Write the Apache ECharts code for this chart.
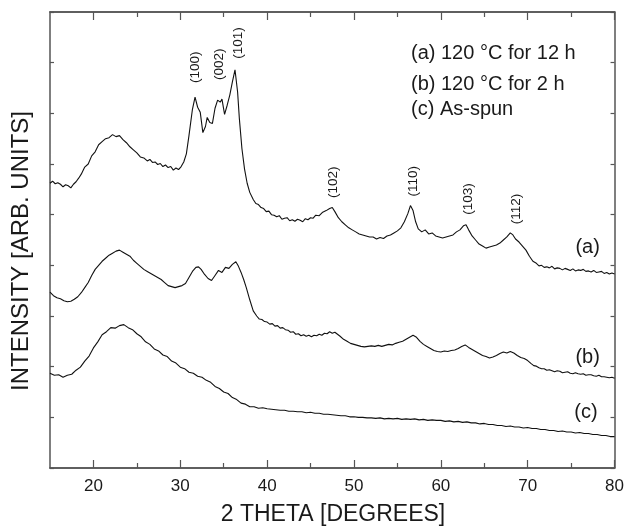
<!DOCTYPE html>
<html>
<head>
<meta charset="utf-8">
<script src="https://cdn.jsdelivr.net/npm/echarts@6/dist/echarts.min.js"></script>
<style>html,body{margin:0;padding:0;background:#fff;}#c{width:627px;height:528px;}</style>
</head>
<body>
<div id="c"></div>
<script>
const majorTicks = [20, 30, 40, 50, 60, 70, 80];
const minorTicks = [25, 35, 45, 55, 65, 75];

const curveA = [
[15.0,5.62],[15.3,5.66],[15.6,5.61],[15.9,5.63],[16.2,5.60],[16.5,5.55],[16.8,5.59],[17.1,5.57],[17.4,5.53],[17.7,5.60],
[18.0,5.65],[18.3,5.72],[18.6,5.80],
[19.0,5.94],[19.4,6.00],[19.8,6.16],[20.2,6.24],[20.6,6.38],[21.0,6.44],[21.4,6.50],[21.8,6.52],[22.2,6.58],[22.6,6.54],
[23.0,6.56],[23.4,6.48],[23.8,6.42],[24.2,6.34],[24.6,6.28],[25.0,6.22],[25.4,6.14],[25.8,6.12],
[26.2,6.06],[26.5,6.09],[26.8,6.03],[27.1,6.04],[27.4,5.99],[27.7,6.01],[28.0,5.95],[28.3,5.98],[28.6,5.93],[28.9,5.95],
[29.2,5.88],[29.5,5.92],[29.8,5.89],[30.1,5.95],[30.4,6.04],[30.7,6.20],
[31.0,6.56],[31.4,7.08],[31.7,7.32],[32.0,7.12],[32.3,7.02],[32.6,6.62],[32.9,6.74],[33.1,6.92],[33.4,6.82],[33.7,6.80],
[34.0,7.10],[34.3,7.26],[34.6,7.22],[34.8,7.28],[35.1,6.98],[35.4,7.16],[35.7,7.36],[36.0,7.62],[36.3,7.86],[36.6,7.42],
[36.8,6.90],[37.1,6.30],[37.4,5.90],[37.7,5.62],[38.0,5.44],
[38.4,5.30],[38.7,5.22],[39.0,5.20],[39.3,5.14],[39.6,5.12],[39.9,5.06],[40.2,5.07],[40.5,5.00],[40.8,4.99],[41.1,4.96],
[41.4,4.98],[41.7,4.91],[42.0,4.93],[42.3,4.94],[42.6,4.88],[42.9,4.90],[43.2,4.87],[43.5,4.91],[43.8,4.89],[44.1,4.86],
[44.4,4.92],[44.7,4.90],[45.0,4.94],[45.3,4.93],[45.6,4.99],[46.0,4.98],[46.4,5.05],
[46.8,5.08],[47.2,5.12],[47.5,5.14],[47.8,5.06],
[48.2,4.94],[48.6,4.86],[49.0,4.80],[49.4,4.74],[49.8,4.70],[50.2,4.66],[50.6,4.62],[51.0,4.60],[51.4,4.58],[51.8,4.56],
[52.2,4.56],[52.6,4.52],[53.0,4.55],[53.4,4.53],[53.8,4.58],[54.2,4.60],[54.6,4.64],[55.0,4.68],[55.4,4.74],[55.8,4.86],
[56.2,5.02],[56.5,5.18],[56.8,5.08],[57.1,4.86],[57.4,4.72],[57.8,4.66],[58.2,4.70],[58.6,4.62],[59.0,4.64],[59.4,4.58],
[59.8,4.56],[60.2,4.54],[60.6,4.56],[61.0,4.58],[61.4,4.60],[61.8,4.66],[62.2,4.70],[62.6,4.78],[62.9,4.80],[63.2,4.70],
[63.6,4.58],[64.0,4.50],[64.4,4.42],[64.8,4.38],[65.2,4.34],[65.6,4.36],[66.0,4.38],[66.4,4.40],[66.8,4.44],[67.2,4.50],
[67.6,4.56],[68.0,4.64],[68.3,4.60],[68.6,4.52],[69.0,4.46],[69.4,4.38],[69.8,4.30],[70.2,4.18],[70.6,4.08],
[71.0,4.04],[71.3,3.99],[71.6,4.00],[71.9,3.96],[72.2,3.97],[72.5,3.95],[72.8,3.98],[73.1,3.93],[73.4,3.95],[73.7,3.94],
[74.0,3.91],[74.3,3.94],[74.6,3.92],[74.9,3.90],[75.2,3.93],[75.5,3.89],[75.8,3.91],[76.1,3.90],[76.4,3.92],[76.7,3.88],
[77.0,3.89],[77.3,3.87],[77.6,3.90],[77.9,3.86],[78.2,3.87],[78.5,3.88],[78.8,3.84],[79.1,3.86],[79.4,3.83],[79.7,3.85],
[80.0,3.83]
];

const curveB = [
[15.0,3.47],[15.4,3.40],[15.8,3.36],[16.2,3.34],[16.6,3.30],[17.0,3.28],[17.4,3.29],[17.8,3.33],[18.2,3.38],[18.6,3.46],
[19.0,3.56],[19.4,3.66],[19.8,3.80],[20.2,3.92],[20.6,4.00],[21.0,4.08],[21.4,4.14],[21.8,4.20],[22.2,4.24],[22.6,4.28],
[23.0,4.30],[23.4,4.26],[23.8,4.22],[24.2,4.18],[24.6,4.10],[25.0,4.04],[25.4,3.98],[25.8,3.92],[26.2,3.88],[26.6,3.84],
[27.0,3.80],[27.4,3.76],[27.8,3.72],[28.2,3.66],[28.6,3.60],[29.0,3.58],[29.4,3.56],[29.8,3.58],[30.2,3.60],[30.6,3.64],
[31.0,3.76],[31.4,3.88],[31.8,3.96],[32.1,3.97],[32.4,3.92],[32.8,3.82],[33.2,3.74],[33.6,3.70],[34.0,3.80],[34.4,3.90],
[34.8,3.86],[35.2,3.96],[35.6,3.94],[36.0,4.02],[36.4,4.07],[36.7,3.98],[37.0,3.86],[37.3,3.72],[37.6,3.56],[38.0,3.32],
[38.4,3.10],
[38.8,3.00],[39.1,2.94],[39.4,2.93],[39.7,2.89],[40.0,2.88],[40.3,2.84],[40.6,2.85],[40.9,2.80],[41.2,2.81],[41.5,2.76],
[41.8,2.77],[42.1,2.73],[42.4,2.72],[42.7,2.68],[43.0,2.69],[43.3,2.64],[43.6,2.65],[43.9,2.61],[44.2,2.63],[44.5,2.60],
[44.8,2.62],[45.1,2.59],[45.4,2.62],[45.7,2.61],[46.0,2.64],[46.3,2.62],[46.6,2.66],[46.9,2.65],[47.2,2.69],[47.5,2.66],
[47.8,2.68],[48.1,2.64],
[48.4,2.60],[48.8,2.54],[49.2,2.50],[49.6,2.46],[50.0,2.44],
[50.4,2.42],[50.8,2.40],[51.2,2.39],[51.6,2.40],[52.0,2.41],[52.4,2.40],[52.8,2.42],[53.2,2.40],[53.6,2.42],[54.0,2.44],
[54.4,2.43],[54.8,2.46],[55.2,2.48],[55.6,2.50],[56.0,2.54],[56.4,2.58],[56.8,2.62],[57.2,2.58],[57.6,2.50],[58.0,2.44],
[58.4,2.40],[58.8,2.36],[59.2,2.32],[59.6,2.30],[60.0,2.29],[60.4,2.31],[60.8,2.30],[61.2,2.32],[61.6,2.33],[62.0,2.36],
[62.4,2.40],[62.8,2.43],[63.2,2.38],[63.6,2.34],[64.0,2.30],[64.4,2.26],[64.8,2.22],[65.2,2.20],[65.6,2.17],[66.0,2.19],
[66.4,2.22],[66.8,2.26],[67.2,2.29],[67.6,2.27],[68.0,2.30],[68.4,2.27],[68.8,2.22],[69.2,2.18],[69.6,2.16],[70.0,2.12],
[70.4,2.06],[70.7,2.02],[71.0,2.01],[71.3,1.98],[71.6,1.96],[71.9,1.96],[72.2,1.93],[72.5,1.94],[72.8,1.92],[73.1,1.90],
[73.4,1.92],[73.7,1.91],[74.0,1.88],[74.3,1.89],[74.6,1.90],[74.9,1.87],[75.2,1.86],[75.5,1.88],[75.8,1.86],[76.1,1.85],
[76.4,1.86],[76.7,1.83],[77.0,1.84],[77.3,1.84],[77.6,1.82],[77.9,1.81],[78.2,1.83],[78.5,1.80],[78.8,1.80],[79.1,1.79],
[79.4,1.78],[79.7,1.79],[80.0,1.77]
];

const curveC = [
[15.0,1.87],[15.5,1.83],[16.0,1.84],[16.5,1.79],[17.0,1.83],[17.5,1.85],[18.0,1.93],[18.5,1.99],[19.0,2.11],[19.5,2.21],
[20.0,2.37],[20.5,2.49],[21.0,2.63],[21.5,2.69],[22.0,2.77],[22.5,2.76],[23.0,2.81],[23.5,2.83],[24.0,2.77],[24.5,2.73],
[25.0,2.65],[25.5,2.59],[26.0,2.49],[26.5,2.44],[27.0,2.35],[27.5,2.31],[28.0,2.23],[28.5,2.20],[29.0,2.11],[29.5,2.07],
[30.0,1.99],[30.5,1.96],[31.0,1.89],[31.5,1.87],[32.0,1.81],[32.5,1.79],[33.0,1.73],[33.5,1.69],[34.0,1.61],[34.5,1.57],
[35.0,1.50],[35.5,1.47],[36.0,1.39],[36.5,1.35],[37.0,1.28],[37.5,1.26],[38.0,1.21],[38.5,1.21],[39.0,1.18],[39.5,1.19],
[40.0,1.17],[40.5,1.16],[41.0,1.15],[41.5,1.14],[42.0,1.14],[42.5,1.12],[43.0,1.12],[43.5,1.11],[44.0,1.11],[44.5,1.09],
[45.0,1.10],[45.5,1.08],[46.0,1.08],[46.5,1.06],[47.0,1.06],[47.5,1.05],[48.0,1.04],[48.5,1.03],[49.0,1.03],[49.5,1.01],
[50.0,1.01],[50.5,1.00],[51.0,1.00],[51.5,0.99],[52.0,0.99],[52.5,0.98],[53.0,0.99],[53.5,0.97],[54.0,0.98],[54.5,0.97],
[55.0,0.98],[55.5,0.96],[56.0,0.97],[56.5,0.96],[57.0,0.97],[57.5,0.95],[58.0,0.96],[58.5,0.94],[59.0,0.95],[59.5,0.94],
[60.0,0.94],[60.5,0.92],[61.0,0.93],[61.5,0.91],[62.0,0.92],[62.5,0.90],[63.0,0.91],[63.5,0.89],[64.0,0.89],[64.5,0.87],
[65.0,0.88],[65.5,0.86],[66.0,0.86],[66.5,0.84],[67.0,0.84],[67.5,0.82],[68.0,0.83],[68.5,0.81],[69.0,0.81],[69.5,0.79],
[70.0,0.80],[70.5,0.78],[71.0,0.78],[71.5,0.76],[72.0,0.76],[72.5,0.74],[73.0,0.74],[73.5,0.72],[74.0,0.73],[74.5,0.71],
[75.0,0.71],[75.5,0.69],[76.0,0.70],[76.5,0.68],[77.0,0.68],[77.5,0.66],[78.0,0.66],[78.5,0.64],[79.0,0.64],[79.5,0.62],
[80.0,0.62]
];

const peakLabels = [
  {name:'(100)', value:[31.74, 7.91]},
  {name:'(002)', value:[34.5, 7.97]},
  {name:'(101)', value:[36.67, 8.39]},
  {name:'(102)', value:[47.67, 5.64]},
  {name:'(110)', value:[56.84, 5.66]},
  {name:'(103)', value:[63.15, 5.31]},
  {name:'(112)', value:[68.65, 5.11]}
];

const curveLabels = [
  {name:'(a)', value:[76.9, 4.36]},
  {name:'(b)', value:[76.9, 2.19]},
  {name:'(c)', value:[76.7, 1.09]}
];

const legendLines = ['(a) 120 \u00B0C for 12 h', '(b) 120 \u00B0C for 2 h', '(c) As-spun'];

const FONT = 'Liberation Sans, Arial, Helvetica, sans-serif';
const axisColor = '#555';
const textColor = '#1a1a1a';

function xAx(pos, ticks, len, showLabel) {
  return {
    type:'value', min:15, max:80, position:pos,
    axisLine:{show:true, lineStyle:{color:axisColor, width:1.5}},
    axisTick:{show:true, inside:true, length:len, customValues:ticks, lineStyle:{color:axisColor, width:1.2}},
    axisLabel:{show:showLabel, customValues:ticks, fontSize:17, color:textColor, fontFamily:FONT, margin:10},
    splitLine:{show:false}
  };
}
function yAx(pos) {
  return {
    type:'value', min:0, max:9, interval:1, position:pos,
    axisLine:{show:true, lineStyle:{color:axisColor, width:1.5}},
    axisTick:{show:true, inside:true, length:4, lineStyle:{color:axisColor, width:1.2}},
    axisLabel:{show:false}, splitLine:{show:false}
  };
}

const chart = echarts.init(document.getElementById('c'), null, {renderer:'canvas'});
const lineStyle = {color:'#111', width:1.1};
chart.setOption({
  animation:false,
  backgroundColor:'#fff',
  grid:{left:50, right:10, top:12, bottom:60},
  xAxis:[
    xAx('bottom', majorTicks, 8, true),
    xAx('bottom', minorTicks, 5, false),
    xAx('top', majorTicks, 8, false),
    xAx('top', minorTicks, 5, false)
  ],
  yAxis:[yAx('left'), yAx('right')],
  graphic:[
    {type:'text', x:21, y:251, rotation:Math.PI/2, style:{text:'INTENSITY [ARB. UNITS]', fontSize:24, fontFamily:FONT, fill:textColor, align:'center', verticalAlign:'middle'}},
    {type:'text', x:333, y:515, style:{text:'2 THETA [DEGREES]', fontSize:23, fontFamily:FONT, fill:textColor, align:'center', verticalAlign:'middle'}},
    {type:'text', x:411, y:53, style:{text:legendLines[0], fontSize:20, fontFamily:FONT, fill:textColor, align:'left', verticalAlign:'middle'}},
    {type:'text', x:411, y:84, style:{text:legendLines[1], fontSize:20, fontFamily:FONT, fill:textColor, align:'left', verticalAlign:'middle'}},
    {type:'text', x:411, y:109, style:{text:legendLines[2], fontSize:20, fontFamily:FONT, fill:textColor, align:'left', verticalAlign:'middle'}}
  ],
  series:[
    {type:'line', data:curveA, symbol:'none', lineStyle:lineStyle, xAxisIndex:0, yAxisIndex:0},
    {type:'line', data:curveB, symbol:'none', lineStyle:lineStyle, xAxisIndex:0, yAxisIndex:0},
    {type:'line', data:curveC, symbol:'none', lineStyle:lineStyle, xAxisIndex:0, yAxisIndex:0},
    {type:'scatter', data:peakLabels, symbolSize:0, xAxisIndex:0, yAxisIndex:0, itemStyle:{color:'#000', opacity:1},
      label:{show:true, position:'inside', formatter:'{b}', rotate:90, fontSize:13.5, color:textColor, textBorderWidth:0, fontFamily:FONT}},
    {type:'scatter', data:curveLabels, symbolSize:0, xAxisIndex:0, yAxisIndex:0, itemStyle:{color:'#000', opacity:1},
      label:{show:true, position:'inside', formatter:'{b}', fontSize:20, color:textColor, textBorderWidth:0, fontFamily:FONT}}
  ]
});
</script>
</body>
</html>
